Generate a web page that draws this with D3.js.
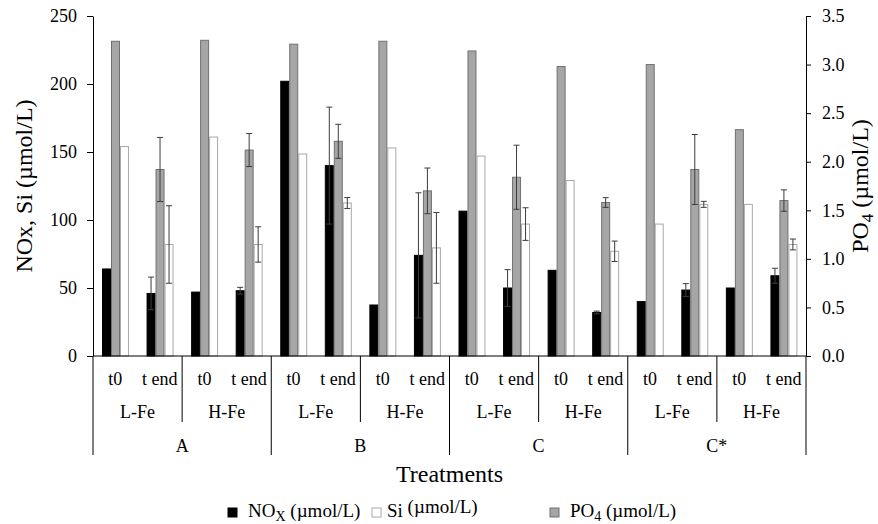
<!DOCTYPE html>
<html>
<head>
<meta charset="utf-8">
<script src="https://cdn.jsdelivr.net/npm/d3@7"></script>
<style>
  body { margin: 0; background: #fff; }
  svg text { font-family: "Liberation Serif", "Times New Roman", Times, "DejaVu Serif", serif !important; fill: #000; }
</style>
</head>
<body>
<svg id="chart" width="878" height="524"></svg>
<script>
// categories
const treatments = ["A", "B", "C", "C*"];
const ironLevels = ["L-Fe", "H-Fe"];
const times = ["t0", "t end"];

// series values, one per bar group (treatment x iron x time)
const nox    = [64, 46, 47, 48, 202, 140, 37.5, 74, 106.5, 50, 63, 32, 40, 48.5, 50, 59];
const noxErr = [0, 12, 0, 2.5, 0, 43, 0, 46, 0, 13.5, 0, 1, 0, 4.7, 0, 5.5];
const si     = [154, 82, 161, 82, 148.5, 112.5, 153, 79.5, 147, 97, 129, 77, 97, 111.5, 111.5, 82];
const siErr  = [0, 28.5, 0, 13, 0, 4, 0, 26, 0, 12, 0, 7.5, 0, 2.2, 0, 4];
const po4    = [3.24, 1.92, 3.25, 2.12, 3.21, 2.21, 3.24, 1.70, 3.14, 1.84, 2.98, 1.58, 3.00, 1.92, 2.33, 1.60];
const po4Err = [0, 0.33, 0, 0.17, 0, 0.175, 0, 0.235, 0, 0.33, 0, 0.05, 0, 0.36, 0, 0.11];

// tick labels
const leftTicks = [0, 50, 100, 150, 200, 250];
const rightTicks = [0, 0.5, 1, 1.5, 2, 2.5, 3, 3.5];

const svg = d3.select('#chart');
const mLeft = 93, mRight = 806, mTop = 16, mBottom = 356;
const serif = '"Liberation Serif", "Times New Roman", Times, "DejaVu Serif", serif';

const groups = d3.range(treatments.length * ironLevels.length * times.length);

const x = d3.scaleBand()
            .domain(groups)
            .range([mLeft, mRight])
            .padding(0);

const series = ["nox", "po4", "si"];
const x1 = d3.scaleBand()
             .domain(series)
             .range([9, x.bandwidth() - 8.6]);

const yL = d3.scaleLinear().domain([0, 250]).range([mBottom, mTop]);
const yR = d3.scaleLinear().domain([0, 3.5]).range([mBottom, mTop]);

// one row per bar, with the scale of its axis
const rows = groups.flatMap(i => [
  {g: i, key: "nox", value: nox[i], err: noxErr[i], y: yL},
  {g: i, key: "po4", value: po4[i], err: po4Err[i], y: yR},
  {g: i, key: "si",  value: si[i],  err: siErr[i],  y: yL}
]);

const fills = {nox: "#000000", po4: "#a6a6a6", si: "#ffffff"};
const strokes = {nox: "#000000", po4: "#707070", si: "#a8a8a8"};

svg.append('g')
   .selectAll('rect')
   .data(rows)
   .enter()
   .append('rect')
   .attr('x', d => x(d.g) + x1(d.key) + 0.5)
   .attr('width', x1.bandwidth() - 1)
   .attr('y', d => d.y(d.value))
   .attr('height', d => mBottom - d.y(d.value))
   .style('fill', d => fills[d.key])
   .style('stroke', d => strokes[d.key])
   .style('stroke-width', '1px');

// error bars
const errs = svg.append('g')
                .selectAll('g')
                .data(rows.filter(d => d.err > 0))
                .enter()
                .append('g')
                .style('stroke', '#3c3c3c')
                .style('stroke-width', '1px');
const cx = d => x(d.g) + x1(d.key) + x1.bandwidth() / 2;
errs.append('line')
    .attr('x1', cx).attr('x2', cx)
    .attr('y1', d => d.y(d.value + d.err))
    .attr('y2', d => d.y(d.value - d.err));
errs.append('line')
    .attr('x1', d => cx(d) - 3).attr('x2', d => cx(d) + 3)
    .attr('y1', d => d.y(d.value + d.err)).attr('y2', d => d.y(d.value + d.err));
errs.append('line')
    .attr('x1', d => cx(d) - 3).attr('x2', d => cx(d) + 3)
    .attr('y1', d => d.y(d.value - d.err)).attr('y2', d => d.y(d.value - d.err));

// axes
const axisL = svg.append('g')
   .attr('transform', `translate(${mLeft},0)`)
   .call(d3.axisLeft(yL).tickValues(leftTicks).tickSize(6).tickSizeOuter(0).tickPadding(10));
const axisR = svg.append('g')
   .attr('transform', `translate(${mRight},0)`)
   .call(d3.axisRight(yR).tickValues(rightTicks).tickFormat(d3.format('.1f')).tickSize(5).tickSizeOuter(0).tickPadding(11));
[axisL, axisR].forEach(a => {
  a.attr('font-family', serif).attr('font-size', 18);
  a.selectAll('path, line').style('stroke', '#000');
});

const lineG = svg.append('g').style('stroke', '#000').style('stroke-width', '1px');
lineG.append('line').attr('x1', mLeft).attr('x2', mRight).attr('y1', mBottom).attr('y2', mBottom);

// hierarchical category axis
const labelG = svg.append('g')
                  .attr('font-family', serif)
                  .style('font-size', '18px')
                  .style('text-anchor', 'middle');
const perTreat = ironLevels.length * times.length;

groups.forEach(i => {
  labelG.append('text')
        .attr('x', x(i) + x.bandwidth() / 2)
        .attr('y', 385)
        .text(times[i % times.length]);
});

d3.range(treatments.length * ironLevels.length).forEach(j => {
  const x0 = x(j * times.length), xe = x0 + x.bandwidth() * times.length;
  labelG.append('text')
        .attr('x', (x0 + xe) / 2)
        .attr('y', 418)
        .text(ironLevels[j % ironLevels.length]);
  if (j % ironLevels.length === 1) {
    lineG.append('line').attr('x1', x0).attr('x2', x0).attr('y1', mBottom).attr('y2', 422);
  }
});

d3.range(treatments.length + 1).forEach(k => {
  const x0 = mLeft + k * x.bandwidth() * perTreat;
  lineG.append('line').attr('x1', x0).attr('x2', x0).attr('y1', mBottom).attr('y2', 455);
  if (k < treatments.length) {
    labelG.append('text')
          .attr('x', x0 + x.bandwidth() * perTreat / 2)
          .attr('y', 452)
          .text(treatments[k]);
  }
});

// titles
svg.append('text')
   .attr('x', (mLeft + mRight) / 2)
   .attr('y', 482)
   .style('font-size', '24px')
   .style('text-anchor', 'middle')
   .text('Treatments');

svg.append('text')
   .attr('transform', `translate(32, ${(mTop + mBottom) / 2}) rotate(-90)`)
   .style('font-size', '24px')
   .style('text-anchor', 'middle')
   .text('NOx, Si (\u00b5mol/L)');

const rt = svg.append('text')
   .attr('transform', `translate(868, ${(mTop + mBottom) / 2}) rotate(-90)`)
   .style('font-size', '24px')
   .style('text-anchor', 'middle');
rt.append('tspan').text('PO');
rt.append('tspan').attr('dy', 5).style('font-size', '17px').text('4');
rt.append('tspan').attr('dy', -5).text(' (\u00b5mol/L)');

// legend
const legendItems = [
  {key: "nox", main: "NO", sub: "X", rest: " (\u00b5mol/L)", x: 228},
  {key: "si",  main: "Si", sub: "",  rest: " (\u00b5mol/L)", x: 372},
  {key: "po4", main: "PO", sub: "4", rest: " (\u00b5mol/L)", x: 550}
];
const lg = svg.append('g')
              .selectAll('g')
              .data(legendItems)
              .enter()
              .append('g')
              .attr('transform', d => `translate(${d.x}, 508)`);
lg.append('rect')
  .attr('width', 9).attr('height', 9)
  .style('fill', d => fills[d.key])
  .style('stroke', d => strokes[d.key]);
const lt = lg.append('text')
  .attr('x', d => d.key === 'si' ? 15 : 20)
  .attr('y', 9)
  .style('font-size', '19px');
lt.append('tspan').text(d => d.main);
lt.append('tspan').attr('dy', 4).style('font-size', '14px').text(d => d.sub);
lt.append('tspan').attr('dy', -4).text(d => d.rest);
</script>
</body>
</html>
